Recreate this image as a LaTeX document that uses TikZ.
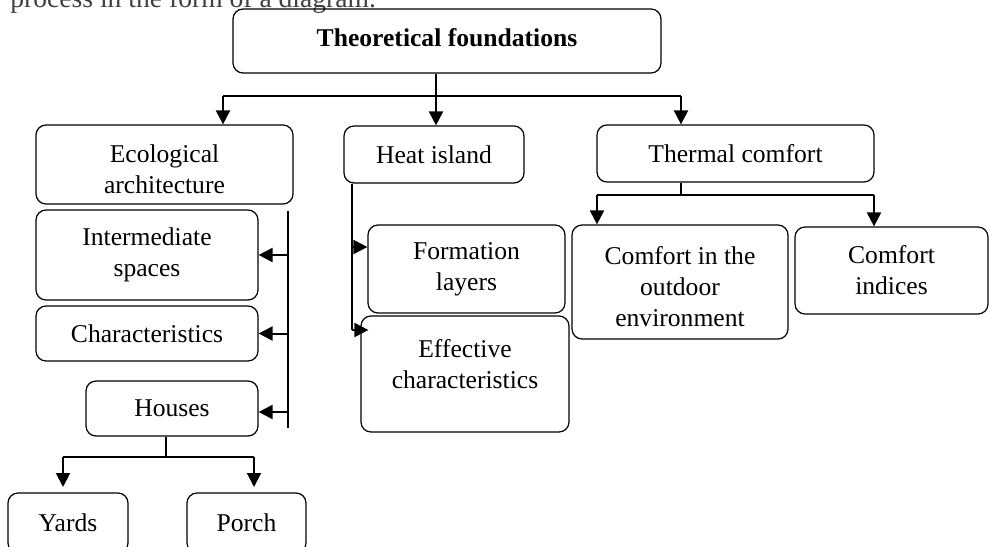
\documentclass[tikz,border=0pt]{standalone}
\usepackage{fontspec}
\setmainfont{Liberation Serif}
\usetikzlibrary{positioning,arrows.meta}
\tikzstyle{block}=[draw, rounded corners=5pt, align=center, inner sep=2pt, line width=0.6pt]
\tikzstyle{link}=[line width=1pt]
\tikzstyle{feed}=[-{Triangle[width=7pt,length=7pt]}, line width=1pt]
\tikzstyle{bar}=[line width=1.3pt]
\begin{document}
\begin{tikzpicture}[x=0.5pt, y=-0.5pt, font=\fontsize{12.8}{15.4}\selectfont]
    \useasboundingbox (0,0) rectangle (989,546);
    \clip (0,0) rectangle (989,546);
    \node[anchor=base west, text=black!75, inner sep=0pt, font=\fontsize{13.8}{16}\selectfont] (intro) at (10,8) {process in the form of a diagram.};
    \node[block, minimum width=214pt, minimum height=32pt, text depth=4pt] (theo) at (447,41) {\textbf{Theoretical foundations}};
    \node[block, minimum width=128.5pt, minimum height=39.5pt, text height=28.7pt] (eco) at (164.5,164.5) {Ecological\\architecture};
    \node[block, minimum width=111pt, minimum height=45pt] (inter) at (147,255) {Intermediate\\spaces};
    \node[block, minimum width=111pt, minimum height=27.5pt] (chars) at (147,333.5) {Characteristics};
    \node[block, minimum width=86pt, minimum height=27.5pt] (houses) at (172,408.5) {Houses};
    \node[block, minimum width=60pt, minimum height=30pt] (yards) at (68,523) {Yards};
    \node[block, minimum width=59.5pt, minimum height=30pt] (porch) at (246.5,523) {Porch};
    \node[block, minimum width=90pt, minimum height=28.5pt] (heat) at (434,154.5) {Heat island};
    \node[block, minimum width=98.5pt, minimum height=44pt] (form) at (466.5,269) {Formation\\layers};
    \node[block, minimum width=104pt, minimum height=58pt, text depth=10pt] (eff) at (465,374) {Effective\\characteristics};
    \node[block, minimum width=138.5pt, minimum height=28.5pt] (thermal) at (735.5,153.5) {Thermal comfort};
    \node[block, minimum width=108pt, minimum height=57pt, text height=44.5pt] (outdoor) at (680,282) {Comfort in the\\outdoor\\environment};
    \node[block, minimum width=96.5pt, minimum height=43.5pt] (indices) at (891.5,270.5) {Comfort\\indices};

    \coordinate (split) at (436,96);
    \coordinate (ja) at (223,96);
    \coordinate (jc) at (681,96);
    \draw[link] (theo.south -| split) -- (split);
    \draw[link] (ja) -- (jc);
    \draw[feed] (ja) -- (ja |- eco.north);
    \draw[feed] (split) -- (split |- heat.north);
    \draw[feed] (jc) -- (jc |- thermal.north);

    \coordinate (e1) at (288,211);
    \coordinate (e2) at (288,428);
    \draw[bar] (e1) -- (e2);
    \draw[feed] (inter.east -| e1) -- (inter.east);
    \draw[feed] (chars.east -| e1) -- (chars.east);
    \draw[feed] (288,412) -- (houses.east |- 0,412);

    \coordinate (hsplit) at (166,457);
    \coordinate (hy) at (63,457);
    \coordinate (hp) at (254,457);
    \draw[link] (houses.south -| hsplit) -- (hsplit);
    \draw[link] (hy) -- (hp);
    \draw[feed] (hy) -- (63,487);
    \draw[feed] (hp) -- (254,487);

    \coordinate (h1) at (352,247);
    \coordinate (h2) at (352,330);
    \draw[link] (heat.south -| h1) -- (h2);
    \draw[feed] (h1) -- (h1 -| form.west);
    \draw[feed] (h2) -- ([xshift=4pt]h2 -| eff.west);

    \coordinate (tc) at (681,195);
    \coordinate (to) at (597,195);
    \coordinate (ti) at (874,195);
    \draw[link] (thermal.south -| tc) -- (tc);
    \draw[link] (to) -- (ti);
    \draw[feed] (to) -- (to |- outdoor.north);
    \draw[feed] (ti) -- (ti |- indices.north);
\end{tikzpicture}
\end{document}
